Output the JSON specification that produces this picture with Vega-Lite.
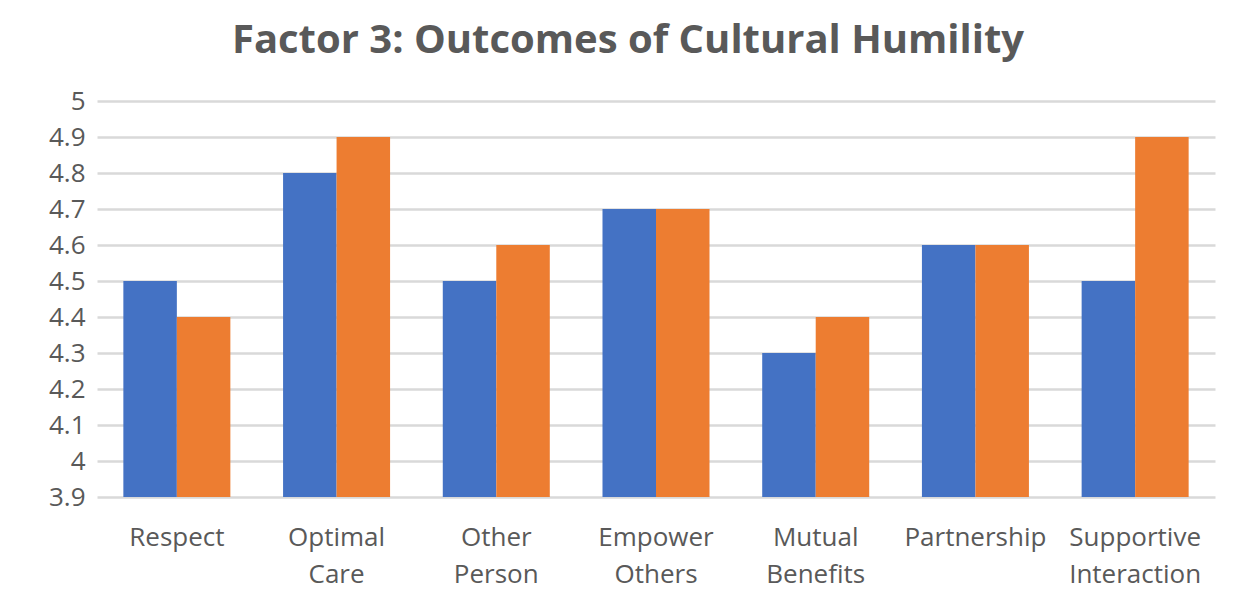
{
  "$schema": "https://vega.github.io/schema/vega-lite/v6.json",
  "autosize": "none",
  "width": 1118,
  "height": 396,
  "padding": {"left": 97, "top": 101, "right": 34, "bottom": 110},
  "background": "white",
  "title": {
    "text": "Factor 3: Outcomes of Cultural Humility",
    "anchor": "middle",
    "font": "Open Sans",
    "fontSize": 40,
    "fontWeight": "bold",
    "color": "#595959",
    "offset": 27,
    "dx": -28
  },
  "data": {
    "values": [
      {"category": "Respect", "series": "Series 1", "value": 4.5},
      {"category": "Respect", "series": "Series 2", "value": 4.4},
      {"category": "Optimal Care", "series": "Series 1", "value": 4.8},
      {"category": "Optimal Care", "series": "Series 2", "value": 4.9},
      {"category": "Other Person", "series": "Series 1", "value": 4.5},
      {"category": "Other Person", "series": "Series 2", "value": 4.6},
      {"category": "Empower Others", "series": "Series 1", "value": 4.7},
      {"category": "Empower Others", "series": "Series 2", "value": 4.7},
      {"category": "Mutual Benefits", "series": "Series 1", "value": 4.3},
      {"category": "Mutual Benefits", "series": "Series 2", "value": 4.4},
      {"category": "Partnership", "series": "Series 1", "value": 4.6},
      {"category": "Partnership", "series": "Series 2", "value": 4.6},
      {"category": "Supportive Interaction", "series": "Series 1", "value": 4.5},
      {"category": "Supportive Interaction", "series": "Series 2", "value": 4.9}
    ]
  },
  "mark": {"type": "bar", "clip": true},
  "encoding": {
    "x": {
      "field": "category",
      "type": "nominal",
      "sort": null,
      "scale": {"paddingInner": 0.33, "paddingOuter": 0.165},
      "axis": {
        "title": null,
        "labelAngle": 0,
        "labelExpr": "split(datum.label, ' ')",
        "labelFont": "Open Sans",
        "labelFontSize": 26,
        "labelColor": "#595959",
        "labelPadding": 27,
        "labelLineHeight": 37,
        "ticks": false,
        "domain": false,
        "grid": false
      }
    },
    "xOffset": {"field": "series", "type": "nominal"},
    "y": {
      "field": "value",
      "type": "quantitative",
      "scale": {"domain": [3.9, 5], "zero": false, "nice": false},
      "axis": {
        "title": null,
        "values": [3.9, 4, 4.1, 4.2, 4.3, 4.4, 4.5, 4.6, 4.7, 4.8, 4.9, 5],
        "format": "~g",
        "labelFont": "Open Sans",
        "labelFontSize": 26,
        "labelColor": "#595959",
        "labelPadding": 12,
        "ticks": false,
        "domain": false,
        "grid": true,
        "gridColor": "#D9D9D9",
        "gridWidth": 2.5
      }
    },
    "color": {
      "field": "series",
      "type": "nominal",
      "scale": {"range": ["#4472C4", "#ED7D31"]},
      "legend": null
    }
  },
  "config": {"view": {"stroke": null}}
}
